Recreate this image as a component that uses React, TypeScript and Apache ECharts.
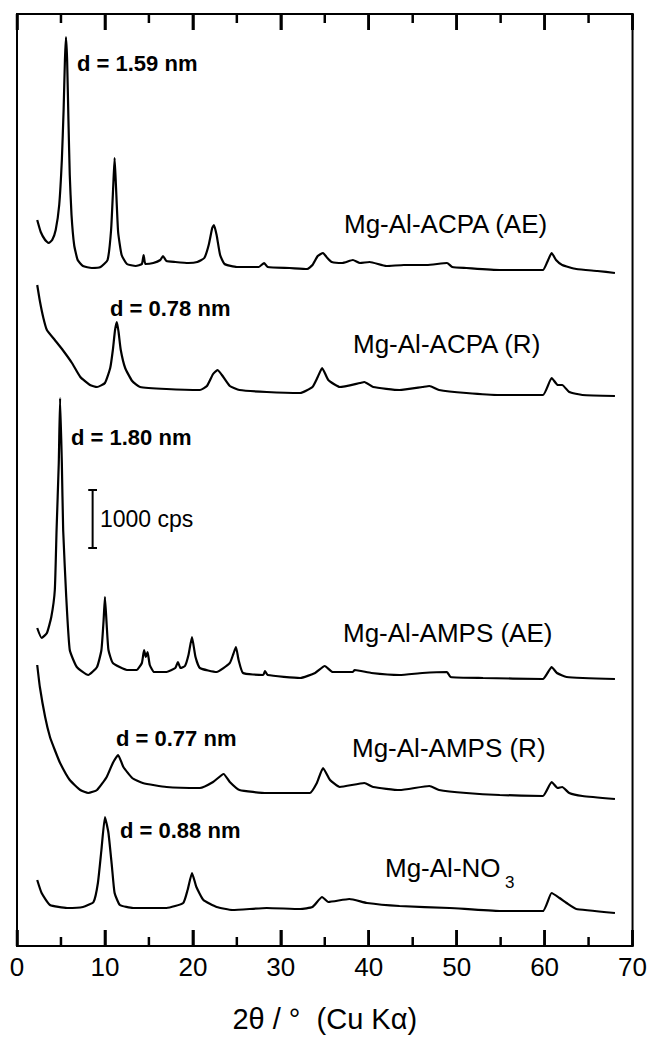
import React, { useEffect, useRef } from "react";
import * as echarts from "echarts";

// XRD patterns, stacked (intensity in plot units; 58 units = 1000 cps)
const acpaAE: [number, number][] = [
  [2.3, 726], [2.7, 714], [3.2, 706], [3.6, 703], [4.0, 706], [4.4, 716], [4.8, 741], [5.1, 786],
  [5.3, 836], [5.45, 886], [5.57, 909], [5.7, 886], [5.85, 826], [6.0, 771], [6.2, 731], [6.5, 701],
  [6.9, 686], [7.5, 680], [8.5, 678], [9.5, 679], [10.3, 686], [10.7, 716], [10.95, 761], [11.1, 788],
  [11.25, 761], [11.5, 714], [11.9, 691], [12.5, 682], [13.5, 680], [14.2, 682], [14.4, 691], [14.6, 682],
  [15.5, 683], [16.3, 686], [16.6, 690], [17.0, 685], [18.0, 684], [19.5, 683], [20.5, 684], [21.3, 688],
  [21.8, 701], [22.2, 718], [22.4, 721], [22.7, 711], [23.1, 691], [23.6, 682], [25.0, 679], [27.5, 679],
  [28.1, 683], [28.5, 679], [31.0, 678], [33.0, 677], [33.6, 681], [34.2, 690], [34.8, 693], [35.3, 688],
  [35.8, 684], [37.0, 683], [38.2, 686], [39.0, 683], [40.1, 684], [42.0, 680], [44.0, 681], [46.6, 681],
  [48.9, 683], [49.5, 679], [51.1, 678], [54.9, 676], [59.8, 676], [60.3, 684], [60.8, 693], [61.3, 686],
  [62.0, 681], [63.6, 677], [66.0, 675], [68.0, 673],
];

const acpaR: [number, number][] = [
  [2.3, 661], [2.6, 645], [3.0, 628], [3.4, 616], [4.3, 606], [5.2, 596], [6.25, 583], [7.2, 569], [8.3, 561],
  [9.1, 559], [10.0, 563], [10.6, 578], [10.9, 596], [11.15, 616], [11.36, 624], [11.55, 614], [11.8, 596],
  [12.3, 578], [13.1, 565], [14.0, 559], [17.0, 557], [20.8, 556], [21.6, 560], [22.3, 572], [22.8, 576],
  [23.3, 571], [24.2, 560], [25.3, 556], [28.4, 554], [32.2, 553], [33.6, 559], [34.2, 569], [34.7, 578],
  [35.4, 566], [36.7, 559], [39.0, 563], [39.5, 564], [40.5, 559], [43.5, 556], [46.1, 559], [46.9, 560],
  [48.0, 556], [51.1, 553], [54.9, 551], [59.8, 551], [60.8, 568], [61.5, 561], [62.0, 561], [62.8, 554],
  [64.3, 551], [68.0, 550],
];

const ampsAE: [number, number][] = [
  [2.3, 318], [2.8, 308], [3.4, 313], [3.9, 329], [4.3, 356], [4.5, 416], [4.75, 483], [4.9, 548],
  [5.1, 483], [5.25, 416], [5.6, 349], [6.0, 296], [6.8, 279], [8.1, 271], [9.1, 279], [9.6, 296],
  [9.85, 326], [10.0, 349], [10.2, 321], [10.4, 296], [10.9, 283], [12.5, 276], [13.6, 276], [14.2, 283],
  [14.45, 296], [14.65, 289], [14.85, 294], [15.1, 281], [15.6, 274], [17.0, 274], [18.0, 278], [18.3, 284],
  [18.6, 278], [19.1, 280], [19.5, 291], [19.9, 309], [20.3, 289], [20.8, 278], [22.7, 274], [24.2, 283],
  [24.6, 292], [24.9, 299], [25.2, 286], [25.7, 273], [28.0, 271], [28.2, 275], [28.5, 271], [32.2, 268],
  [33.9, 273], [35.0, 280], [35.9, 274], [38.2, 274], [38.4, 276], [40.3, 273], [43.5, 271], [46.1, 273],
  [48.9, 274], [49.3, 269], [53.0, 268], [59.8, 267], [60.8, 279], [61.4, 273], [62.5, 269], [68.0, 267],
];

const ampsR: [number, number][] = [
  [2.3, 281], [2.6, 259], [3.2, 229], [3.75, 209], [4.3, 196], [4.9, 183], [6.0, 166], [7.2, 156],
  [8.1, 153], [9.1, 156], [10.2, 169], [10.9, 183], [11.5, 191], [12.1, 179], [13.1, 168], [14.3, 163],
  [17.0, 159], [20.8, 158], [22.3, 164], [23.5, 172], [24.2, 164], [25.3, 156], [28.4, 153], [33.3, 153],
  [34.1, 163], [34.8, 178], [35.6, 166], [36.7, 159], [39.5, 163], [40.5, 159], [43.5, 156], [46.9, 160],
  [48.0, 156], [51.1, 153], [54.9, 151], [59.8, 150], [60.8, 164], [61.5, 158], [62.0, 159], [62.8, 153],
  [64.3, 150], [68.0, 147],
];

const no3: [number, number][] = [
  [2.3, 66], [2.8, 53], [3.75, 41], [5.7, 38], [7.5, 39], [8.7, 44], [9.2, 63], [9.6, 96],
  [10.0, 129], [10.4, 113], [10.8, 79], [11.1, 53], [11.7, 41], [13.2, 38], [17.0, 38], [18.9, 43],
  [19.4, 56], [19.9, 73], [20.4, 59], [21.2, 46], [22.7, 39], [24.5, 36], [28.4, 38], [32.2, 37],
  [33.6, 39], [34.7, 49], [35.4, 44], [37.8, 47], [39.8, 43], [43.5, 40], [49.2, 38], [54.9, 35],
  [59.8, 35], [60.8, 53], [61.7, 48], [62.5, 43], [63.6, 37], [68.0, 33],
];

const seriesNames = ["Mg-Al-ACPA (AE)", "Mg-Al-ACPA (R)", "Mg-Al-AMPS (AE)", "Mg-Al-AMPS (R)", "Mg-Al-NO3"];
const seriesData = [acpaAE, acpaR, ampsAE, ampsR, no3];

// scale bar: 1000 cps
const scaleBarX = 8.6;
const scaleBarBottom = 398;
const scaleBarUnits = 58;
const scaleBarCap = 0.5;

const xTicks = [0, 10, 20, 30, 40, 50, 60, 70];
const xMinorTicks = [5, 15, 25, 35, 45, 55, 65];
const yMax = 932;

export default function App() {
  const ref = useRef<HTMLDivElement>(null);
  useEffect(() => {
    document.body.style.margin = "0";
    if (!ref.current) return;
    const chart = echarts.init(ref.current, null, { renderer: "svg" });
    const font = "Liberation Sans, Arial, sans-serif";

    const tickSeries = {
      name: "ticks",
      type: "custom",
      silent: true,
      z: 10,
      data: [...xTicks, ...xMinorTicks].map((v) => [v, 0]),
      renderItem: (_p: any, api: any) => {
        const v = api.value(0);
        const len = v % 10 === 0 ? 16 : 9;
        const b = api.coord([v, 0]);
        const t = api.coord([v, yMax]);
        return {
          type: "group",
          children: [
            { type: "line", shape: { x1: b[0], y1: b[1], x2: b[0], y2: b[1] - len }, style: { stroke: "#000", lineWidth: 2.5 } },
            { type: "line", shape: { x1: t[0], y1: t[1], x2: t[0], y2: t[1] + len }, style: { stroke: "#000", lineWidth: 2.5 } },
          ],
        };
      },
    };

    const scaleBarSeries = {
      name: "1000 cps",
      type: "custom",
      silent: true,
      data: [[scaleBarX, scaleBarBottom]],
      renderItem: (_p: any, api: any) => {
        const x = api.value(0);
        const y0 = api.value(1);
        const b = api.coord([x, y0]);
        const t = api.coord([x, y0 + scaleBarUnits]);
        const bl = api.coord([x - scaleBarCap, y0]);
        const br = api.coord([x + scaleBarCap, y0]);
        const tl = api.coord([x - scaleBarCap, y0 + scaleBarUnits]);
        const tr = api.coord([x + scaleBarCap, y0 + scaleBarUnits]);
        return {
          type: "group",
          children: [
            { type: "line", shape: { x1: b[0], y1: b[1], x2: t[0], y2: t[1] }, style: { stroke: "#000", lineWidth: 2 } },
            { type: "line", shape: { x1: bl[0], y1: bl[1], x2: br[0], y2: br[1] }, style: { stroke: "#000", lineWidth: 2 } },
            { type: "line", shape: { x1: tl[0], y1: tl[1], x2: tr[0], y2: tr[1] }, style: { stroke: "#000", lineWidth: 2 } },
          ],
        };
      },
    };

    const lineSeries: any[] = seriesData.map((d, i) => ({
      name: seriesNames[i],
      type: "line",
      data: d,
      showSymbol: false,
      symbol: "none",
      smooth: 0.15,
      lineStyle: { color: "#000", width: 2.2 },
    }));

    const bold = (text: string, x: number, y: number) => ({
      type: "text",
      x,
      y,
      style: { text, fill: "#000", font: `bold 22px ${font}`, textVerticalAlign: "middle", textAlign: "left" },
    });
    const plain = (text: string, x: number, y: number, size = 26) => ({
      type: "text",
      x,
      y,
      style: { text, fill: "#000", font: `${size}px ${font}`, textVerticalAlign: "middle", textAlign: "left" },
    });

    chart.setOption({
      animation: false,
      backgroundColor: "#fff",
      grid: { left: 17, top: 14, width: 616, height: 932, show: true, borderColor: "#000", borderWidth: 2 },
      xAxis: [
        {
          type: "value",
          min: 0,
          max: 70,
          interval: 10,
          position: "bottom",
          axisLine: { show: true, onZero: false, lineStyle: { color: "#000", width: 2 } },
          axisTick: { show: true, inside: true, length: 16, lineStyle: { color: "#000", width: 2.5 } },
          splitLine: { show: false },
          axisLabel: { show: true, color: "#000", fontSize: 26, fontFamily: font, margin: 8 },
          name: "2\u03B8 / \u00B0  (Cu K\u03B1)",
          nameLocation: "middle",
          nameGap: 58,
          nameTextStyle: { color: "#000", fontSize: 29, fontFamily: font },
        },
        {
          type: "value",
          min: 0,
          max: 70,
          interval: 10,
          position: "top",
          axisLine: { show: true, onZero: false, lineStyle: { color: "#000", width: 2 } },
          axisTick: { show: true, inside: true, length: 16, lineStyle: { color: "#000", width: 2.5 } },
          splitLine: { show: false },
          axisLabel: { show: false },
        },
      ],
      yAxis: {
        type: "value",
        min: 0,
        max: yMax,
        axisLine: { show: true, onZero: false, lineStyle: { color: "#000", width: 2 } },
        axisTick: { show: false },
        axisLabel: { show: false },
        splitLine: { show: false },
      },
      series: [tickSeries, scaleBarSeries, ...lineSeries],
      graphic: [
        bold("d = 1.59 nm", 77, 63),
        bold("d = 0.78 nm", 110, 308),
        bold("d = 1.80 nm", 71, 437),
        bold("d = 0.77 nm", 116, 738),
        bold("d = 0.88 nm", 120, 830),
        plain("1000 cps", 100, 519, 23),
        plain("Mg-Al-ACPA (AE)", 344, 224),
        plain("Mg-Al-ACPA (R)", 353, 344),
        plain("Mg-Al-AMPS (AE)", 343, 633),
        plain("Mg-Al-AMPS (R)", 352, 748),
        plain("Mg-Al-NO", 385, 868),
        plain("3", 505, 882, 17),
      ],
    });
    return () => chart.dispose();
  }, []);
  return <div ref={ref} style={{ width: 650, height: 1041 }} />;
}
